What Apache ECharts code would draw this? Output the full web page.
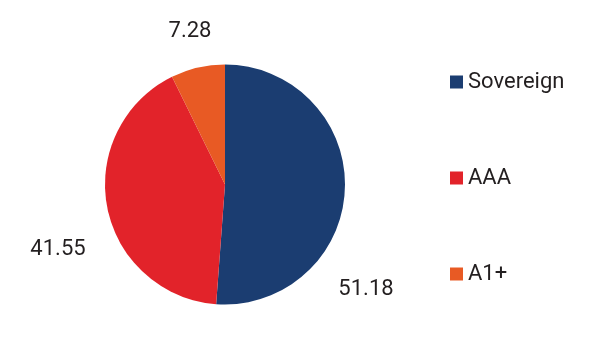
<!DOCTYPE html>
<html>
<head>
<meta charset="utf-8">
<script src="https://cdn.jsdelivr.net/npm/echarts@6/dist/echarts.min.js"></script>
<style>
  html, body { margin: 0; padding: 0; background: #fff; }
  #chart { width: 605px; height: 354px; }
</style>
</head>
<body>
<div id="chart"></div>
<script>
const categories = ['Sovereign', 'AAA', 'A1+']
const values = [51.18, 41.55, 7.28]
const colors = ['#1b3d71', '#e2232a', '#e85a24']

// where each value label sits (label centre, px)
const labelSpots = [[366, 289], [58, 249], [190, 31]]

const chart = echarts.init(document.getElementById('chart'))

chart.setOption({
  animation: false,
  textStyle: { fontFamily: 'Roboto' },
  legend: {
    orient: 'vertical',
    left: 445,
    top: 66,
    itemWidth: 13,
    itemHeight: 13,
    itemGap: 74,
    icon: 'rect',
    textStyle: { fontSize: 22, color: '#231f20', padding: [0, 0, 0, 0], lineHeight: 22 },
    data: categories
  },
  series: [{
    type: 'pie',
    center: [225, 184.5],
    radius: 120,
    startAngle: 90,
    clockwise: true,
    data: categories.map((name, i) => ({
      name,
      value: values[i],
      itemStyle: { color: colors[i] }
    })),
    label: {
      show: true,
      position: 'outside',
      alignTo: 'none',
      overflow: 'none',
      formatter: p => p.value.toFixed(2),
      fontSize: 22,
      color: '#231f20'
    },
    labelLine: { show: false },
    labelLayout: params => ({
      x: labelSpots[params.dataIndex][0],
      y: labelSpots[params.dataIndex][1],
      align: 'center',
      verticalAlign: 'middle',
      width: 80
    }),
    emphasis: { disabled: true }
  }]
})
</script>
</body>
</html>
